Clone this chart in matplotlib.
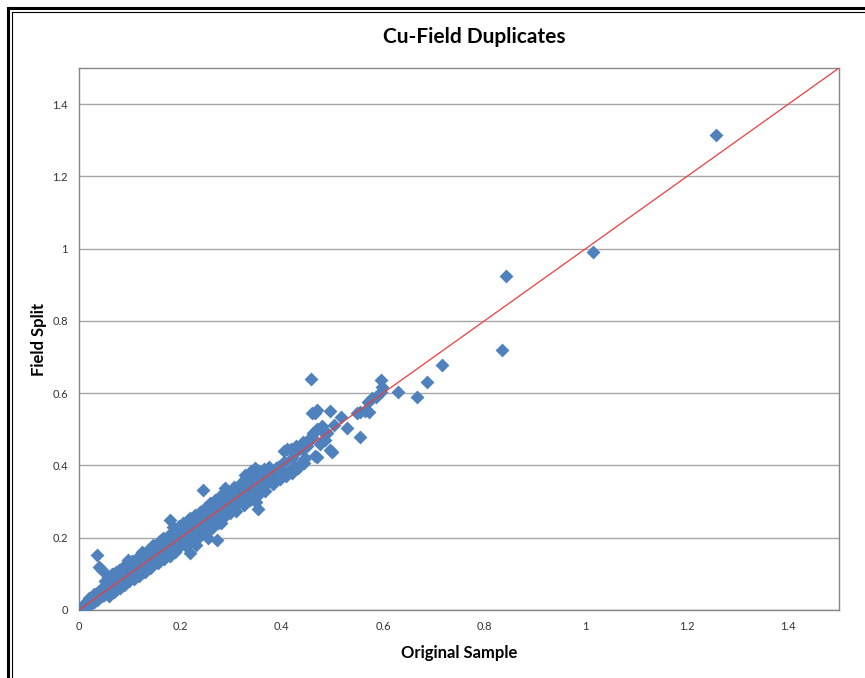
import matplotlib
matplotlib.use('Agg')
import matplotlib.pyplot as plt
from matplotlib.lines import Line2D

plt.rcParams['font.family'] = ['Lato', 'DejaVu Sans']

# original sample (x) vs field split (y)
orig = [
    0.002, 0.005, 0.008, 0.010, 0.012, 0.015, 0.017, 0.020, 0.022, 0.025,
    0.027, 0.030, 0.032, 0.035, 0.037, 0.040, 0.042, 0.045, 0.047, 0.050,
    0.052, 0.055, 0.057, 0.060, 0.062, 0.065, 0.067, 0.070, 0.072, 0.075,
    0.077, 0.080, 0.082, 0.085, 0.087, 0.090, 0.092, 0.095, 0.097, 0.099,
    0.035, 0.045, 0.040, 0.097, 0.066, 0.075, 0.088, 0.055, 0.030, 0.020,
    0.052, 0.058, 0.063, 0.068, 0.073, 0.078, 0.083, 0.086, 0.093, 0.060,
    0.070, 0.080, 0.090, 0.098,
    0.100, 0.103, 0.106, 0.108, 0.111, 0.114, 0.116, 0.119, 0.122, 0.124,
    0.127, 0.130, 0.132, 0.135, 0.138, 0.140, 0.143, 0.146, 0.148, 0.151,
    0.154, 0.156, 0.159, 0.162, 0.164, 0.167, 0.170, 0.172, 0.175, 0.178,
    0.180, 0.183, 0.186, 0.188, 0.191, 0.194, 0.196, 0.199,
    0.134, 0.128, 0.120, 0.160, 0.179, 0.150, 0.140, 0.170, 0.190, 0.110,
    0.145, 0.185, 0.195,
    0.105, 0.115, 0.125, 0.137, 0.147, 0.157, 0.165, 0.175, 0.185, 0.198,
    0.108, 0.118, 0.130, 0.142, 0.155, 0.168, 0.180, 0.192,
    0.201, 0.205, 0.209, 0.213, 0.217, 0.221, 0.225, 0.229, 0.233, 0.237,
    0.241, 0.245, 0.249, 0.253, 0.257, 0.261, 0.265, 0.269, 0.273, 0.277,
    0.281, 0.285, 0.289, 0.293, 0.297,
    0.219, 0.219, 0.244, 0.272, 0.288, 0.230, 0.250, 0.260, 0.280, 0.290,
    0.240, 0.265, 0.210, 0.255,
    0.205, 0.215, 0.228, 0.238, 0.248, 0.258, 0.268, 0.278, 0.292, 0.210,
    0.222, 0.235, 0.247, 0.262, 0.275, 0.286, 0.298,
    0.301, 0.305, 0.309, 0.313, 0.317, 0.321, 0.325, 0.329, 0.333, 0.337,
    0.341, 0.345, 0.349, 0.353, 0.357, 0.361, 0.365, 0.369, 0.373, 0.377,
    0.381, 0.385, 0.389, 0.393, 0.397,
    0.327, 0.347, 0.353, 0.340, 0.360, 0.335, 0.370, 0.350, 0.380, 0.392,
    0.305, 0.318, 0.330, 0.345, 0.355, 0.365, 0.375, 0.310, 0.325, 0.338,
    0.352, 0.368, 0.383, 0.396,
    0.400, 0.405, 0.410, 0.416, 0.420, 0.425, 0.430, 0.436, 0.440, 0.445,
    0.450, 0.455, 0.460, 0.465, 0.470, 0.475, 0.480, 0.485, 0.490, 0.495,
    0.457, 0.459, 0.469, 0.495, 0.461, 0.470, 0.480, 0.455, 0.465, 0.500,
    0.405, 0.418, 0.428, 0.442, 0.408, 0.420, 0.432, 0.447,
    0.504, 0.518, 0.528, 0.548, 0.554, 0.554, 0.565, 0.570, 0.573, 0.579,
    0.587, 0.597, 0.599, 0.597, 0.629, 0.668, 0.686, 0.717,
    0.835, 0.843, 1.015, 1.257,
]
split = [
    0.004, 0.001, 0.012, 0.006, 0.018, 0.010, 0.024, 0.014, 0.030, 0.020,
    0.036, 0.022, 0.042, 0.028, 0.050, 0.032, 0.055, 0.040, 0.060, 0.042,
    0.066, 0.048, 0.072, 0.052, 0.078, 0.058, 0.085, 0.062, 0.090, 0.068,
    0.094, 0.072, 0.098, 0.078, 0.104, 0.082, 0.108, 0.088, 0.112, 0.094,
    0.152, 0.111, 0.120, 0.138, 0.100, 0.058, 0.070, 0.075, 0.045, 0.032,
    0.080, 0.090, 0.095, 0.100, 0.106, 0.112, 0.090, 0.118, 0.125, 0.040,
    0.050, 0.060, 0.072, 0.080,
    0.112, 0.096, 0.118, 0.100, 0.124, 0.104, 0.130, 0.110, 0.136, 0.114,
    0.142, 0.120, 0.146, 0.124, 0.152, 0.128, 0.158, 0.132, 0.162, 0.138,
    0.168, 0.142, 0.172, 0.148, 0.178, 0.152, 0.184, 0.156, 0.188, 0.162,
    0.194, 0.166, 0.198, 0.170, 0.204, 0.176, 0.208, 0.180,
    0.158, 0.150, 0.140, 0.190, 0.249, 0.170, 0.115, 0.150, 0.160, 0.135,
    0.175, 0.215, 0.225,
    0.135, 0.145, 0.160, 0.165, 0.180, 0.188, 0.198, 0.205, 0.230, 0.232,
    0.085, 0.095, 0.105, 0.118, 0.130, 0.140, 0.150, 0.165,
    0.214, 0.190, 0.222, 0.198, 0.230, 0.204, 0.238, 0.212, 0.246, 0.220,
    0.254, 0.228, 0.262, 0.236, 0.270, 0.244, 0.278, 0.252, 0.284, 0.260,
    0.292, 0.268, 0.300, 0.276, 0.306,
    0.255, 0.158, 0.332, 0.194, 0.338, 0.180, 0.215, 0.260, 0.240, 0.320,
    0.245, 0.290, 0.235, 0.200,
    0.240, 0.250, 0.262, 0.270, 0.282, 0.295, 0.305, 0.315, 0.330, 0.180,
    0.192, 0.200, 0.218, 0.228, 0.240, 0.258, 0.268,
    0.318, 0.288, 0.322, 0.296, 0.330, 0.304, 0.338, 0.312, 0.346, 0.318,
    0.352, 0.326, 0.358, 0.334, 0.366, 0.342, 0.372, 0.350, 0.380, 0.356,
    0.386, 0.364, 0.392, 0.372, 0.398,
    0.374, 0.393, 0.279, 0.385, 0.352, 0.330, 0.360, 0.300, 0.370, 0.395,
    0.340, 0.350, 0.365, 0.375, 0.385, 0.390, 0.395, 0.275, 0.290, 0.305,
    0.315, 0.330, 0.350, 0.362,
    0.385, 0.410, 0.446, 0.387, 0.420, 0.396, 0.440, 0.405, 0.445, 0.407,
    0.455, 0.470, 0.480, 0.425, 0.423, 0.460, 0.495, 0.470, 0.490, 0.443,
    0.639, 0.545, 0.553, 0.551, 0.490, 0.500, 0.510, 0.475, 0.545, 0.437,
    0.440, 0.445, 0.455, 0.465, 0.372, 0.380, 0.392, 0.420,
    0.512, 0.534, 0.504, 0.545, 0.548, 0.479, 0.550, 0.576, 0.548, 0.587,
    0.589, 0.636, 0.617, 0.603, 0.603, 0.589, 0.631, 0.678,
    0.719, 0.924, 0.990, 1.314,
]

ref_line = [0, 1.5]
ticks = [0, 0.2, 0.4, 0.6, 0.8, 1.0, 1.2, 1.4]
tick_labels = ['0', '0.2', '0.4', '0.6', '0.8', '1', '1.2', '1.4']

fig = plt.figure(figsize=(8.65, 6.78), dpi=100)
ax = fig.add_axes([79 / 865, 1 - 610 / 678, 760 / 865, 542 / 678])

ax.scatter(orig, split, marker='D', s=50, color='#4F81BD', linewidths=0, zorder=3)
ax.plot(ref_line, ref_line, color='#F03C3C', lw=0.9, zorder=4)

ax.set_xlim(0, 1.5)
ax.set_ylim(0, 1.5)
ax.set_xticks(ticks)
ax.set_xticklabels(tick_labels)
ax.set_yticks(ticks)
ax.set_yticklabels(tick_labels)
ax.tick_params(length=0, labelsize=8, colors='#333333', pad=8)
ax.yaxis.grid(True, color='#A6A6A6', lw=1)
ax.set_axisbelow(True)
for s in ax.spines.values():
    s.set_color('#868686')
    s.set_linewidth(1)

ax.set_xlabel('Original Sample', fontsize=12, fontweight='bold', labelpad=9)
ax.set_ylabel('Field Split', fontsize=12, fontweight='bold', labelpad=4)
fig.text(474 / 865, 1 - 37 / 678, 'Cu-Field Duplicates', ha='center', va='center',
         fontsize=15, fontweight='bold')

# double frame at the left and top edges
W, H = 865, 678
fig.add_artist(Line2D([8 / W, 8 / W], [0, 1 - 8 / H], color='black', lw=2.2, transform=fig.transFigure))
fig.add_artist(Line2D([8 / W, 1], [1 - 8 / H, 1 - 8 / H], color='black', lw=2.2, transform=fig.transFigure))
fig.add_artist(Line2D([11.5 / W, 11.5 / W], [0, 1 - 11.5 / H], color='black', lw=0.8, transform=fig.transFigure))
fig.add_artist(Line2D([11.5 / W, 1], [1 - 11.5 / H, 1 - 11.5 / H], color='black', lw=0.8, transform=fig.transFigure))

fig.savefig('out.png', dpi=100)
